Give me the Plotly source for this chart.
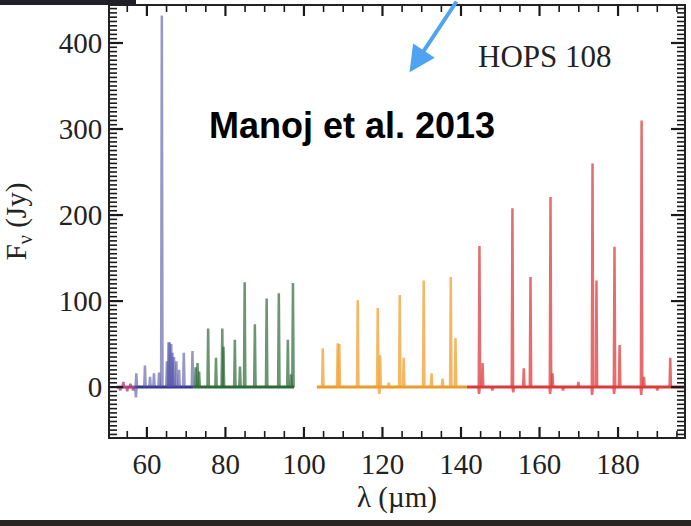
import plotly.graph_objects as go

# ---------------- data ----------------
# segment extents (micron)
purple_range = [52.3, 57.0]
blue_range = [57.0, 71.9]
green_range = [71.9, 97.5]
orange_range = [103.3, 141.5]
red_range = [141.5, 196.8]

# emission line centres (micron) and peak flux (Jy); negative = dips
purple_lam = [53.2, 54.0, 55.0, 55.8, 56.5]
purple_flux = [-4, 6, -5, 4, -4]

blue_lam = [57.2, 57.3, 59.5, 60.8, 61.8, 63.1, 63.8, 65.1, 65.5, 65.8, 66.2, 66.5, 66.9, 67.5, 68.2, 69.4, 71.6]
blue_flux = [-12, 16, 25, 12, 16, 17, 432, 30, 52, 52, 50, 40, 35, 30, 20, 40, 42]

green_lam = [72.4, 72.9, 73.3, 75.6, 77.6, 79.2, 79.5, 82.4, 83.7, 84.9, 87.5, 90.5, 93.6, 95.9, 96.7, 97.2]
green_flux = [23, 28, 18, 68, 34, 68, 47, 55, 24, 122, 73, 103, 109, 55, 15, 121]

orange_lam = [104.8, 108.6, 109.0, 113.7, 118.8, 119.2, 119.4, 121.6, 124.4, 125.4, 130.5, 132.5, 135.3, 137.4, 138.6]
orange_flux = [45, 51, 50, 101, 92, -8, 37, 5, 107, 34, 124, 16, 10, 128, 57]

red_lam = [144.6, 144.7, 145.5, 148.0, 153.1, 153.3, 156.0, 157.7, 162.7, 162.8, 163.3, 166.0,
           169.9, 173.4, 173.5, 174.5, 179.0, 179.1, 180.4, 185.9, 186.0, 186.6, 190.0, 193.3]
red_flux = [-8, 164, 28, -4, 208, -6, 22, 128, -8, 221, 16, -4,
            6, -9, 260, 124, -8, 163, 49, -9, 310, 12, -4, 34]

x_tick_start, x_tick_step = 60, 20
y_tick_start, y_tick_step = 0, 100

# ---------------- figure ----------------
W, H = 691, 526
L, R, T, B = 110, 684, 6, 437
X_RANGE = [50.6, 196.8]
Y_RANGE = [-58, 443]
HW = 0.18  # half-width of a drawn line spike (micron)


def px_x(px):
    return (px - L) / (R - L)


def px_y(py):
    return (B - py) / (B - T)


def spikes(lams, fluxes):
    xs, ys = [], []
    for l, f in zip(lams, fluxes):
        xs += [l - HW, l, l + HW, None]
        ys += [0, f, 0, None]
    return xs, ys


segments = [
    (purple_range, purple_lam, purple_flux, "#b0457e", "rgba(176,69,126,0.8)"),
    (blue_range, blue_lam, blue_flux, "#37378f", "rgba(80,80,165,0.6)"),
    (green_range, green_lam, green_flux, "#2d6a38", "rgba(45,106,56,0.7)"),
    (orange_range, orange_lam, orange_flux, "#ec9a2c", "rgba(240,160,50,0.75)"),
    (red_range, red_lam, red_flux, "#dc3a3a", "rgba(222,60,60,0.75)"),
]

fig = go.Figure()
for rng, lams, fluxes, base_col, spike_col in segments:
    fig.add_trace(go.Scatter(x=rng, y=[0, 0], mode="lines",
                             line=dict(color=base_col, width=3), hoverinfo="skip"))
    xs, ys = spikes(lams, fluxes)
    fig.add_trace(go.Scatter(x=xs, y=ys, mode="lines",
                             line=dict(color=spike_col, width=2.5), hoverinfo="skip"))

# inward tick marks on all four sides (major + minor every 5 units), drawn as line traces
plot_w, plot_h = R - L, B - T
x_per_px = (X_RANGE[1] - X_RANGE[0]) / plot_w
y_per_px = (Y_RANGE[1] - Y_RANGE[0]) / plot_h
tick_sets = {True: ([], []), False: ([], [])}
v = 55
while v <= X_RANGE[1]:
    major = (v - x_tick_start) % x_tick_step == 0
    ln = (10 if major else 6) * y_per_px
    xs, ys = tick_sets[major]
    xs += [v, v, None, v, v, None]
    ys += [Y_RANGE[0], Y_RANGE[0] + ln, None, Y_RANGE[1], Y_RANGE[1] - ln, None]
    v += 5
v = -55
while v <= Y_RANGE[1]:
    major = (v - y_tick_start) % y_tick_step == 0
    ln = (13 if major else 7) * x_per_px
    xs, ys = tick_sets[major]
    xs += [X_RANGE[0], X_RANGE[0] + ln, None, X_RANGE[1], X_RANGE[1] - ln, None]
    ys += [v, v, None, v, v, None]
    v += 5
for major, (xs, ys) in tick_sets.items():
    fig.add_trace(go.Scatter(x=xs, y=ys, mode="lines", hoverinfo="skip", cliponaxis=False,
                             line=dict(color="#1a1a1a", width=2.2 if major else 1.6)))

axis_font = dict(family="Liberation Serif", size=29, color="#222222")

fig.update_layout(
    width=W, height=H,
    margin=dict(l=L, r=W - R, t=T, b=H - B, pad=0),
    paper_bgcolor="white", plot_bgcolor="white",
    showlegend=False,
    xaxis=dict(range=X_RANGE, tickmode="linear", tick0=x_tick_start, dtick=x_tick_step,
               ticks="", showline=True, linecolor="#222", linewidth=2, mirror=True,
               showgrid=False, zeroline=False, tickfont=axis_font, automargin=False,
               title=dict(text="λ (µm)", font=axis_font, standoff=8)),
    yaxis=dict(range=Y_RANGE, tickmode="linear", tick0=y_tick_start, dtick=y_tick_step,
               ticks="", showline=True, linecolor="#222", linewidth=2, mirror=True,
               showgrid=False, zeroline=False, tickfont=axis_font, automargin=False,
               title=dict(text="F<sub>ν</sub> (Jy)", font=axis_font, standoff=26)),
)

# dark slide edges
fig.add_shape(type="rect", xref="paper", yref="paper",
              x0=px_x(0), x1=px_x(136), y0=px_y(5), y1=px_y(0),
              fillcolor="#1f1f25", line=dict(width=0), layer="above")
fig.add_shape(type="rect", xref="paper", yref="paper",
              x0=px_x(0), x1=px_x(W), y0=px_y(H), y1=px_y(520),
              fillcolor="#2a2524", line=dict(width=0), layer="above")

fig.add_annotation(text="HOPS 108", xref="paper", yref="paper",
                   x=px_x(545), y=px_y(57), xanchor="center", yanchor="middle", showarrow=False,
                   font=dict(family="Liberation Serif", size=31, color="#222"))
fig.add_annotation(text="<b>Manoj et al. 2013</b>", xref="paper", yref="paper",
                   x=px_x(352), y=px_y(125), xanchor="center", yanchor="middle", showarrow=False,
                   font=dict(family="Liberation Sans", size=36, color="black"))
# blue arrow
fig.add_annotation(text="", x=126.9, y=366, xref="x", yref="y",
                   ax=48, ay=-80, axref="pixel", ayref="pixel",
                   showarrow=True, arrowhead=2, arrowsize=1.3, arrowwidth=4,
                   arrowcolor="#4ea4f3", standoff=0)

fig.write_html("out.html")
